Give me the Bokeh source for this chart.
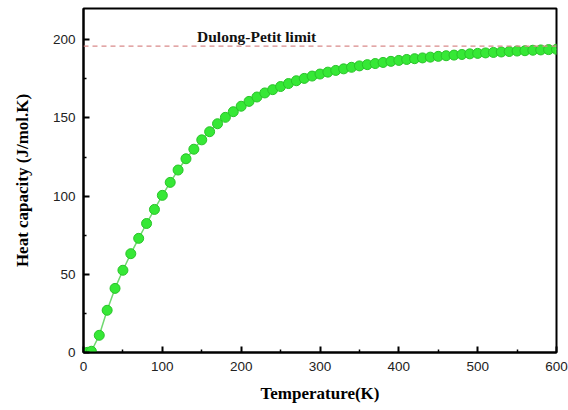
from bokeh.plotting import figure
from bokeh.models import Range1d, FixedTicker, Span
from bokeh.core.properties import value
from bokeh.embed import file_html
from bokeh.resources import INLINE

temperature = [5, 10, 20, 30, 40, 50, 60, 70, 80, 90, 100, 110, 120, 130, 140, 150,
               160, 170, 180, 190, 200, 210, 220, 230, 240, 250, 260, 270, 280, 290,
               300, 310, 320, 330, 340, 350, 360, 370, 380, 390, 400, 410, 420, 430,
               440, 450, 460, 470, 480, 490, 500, 510, 520, 530, 540, 550, 560, 570,
               580, 590, 600]
heat_capacity = [0.1, 0.8, 11.0, 27.0, 41.0, 52.6, 63.2, 73.0, 82.5, 91.5, 100.5, 108.8,
                 116.7, 123.9, 130.0, 136.0, 141.2, 146.3, 150.4, 154.0, 157.5, 160.6,
                 163.4, 166.0, 168.1, 170.1, 172.0, 173.8, 175.3, 176.8, 178.1, 179.3,
                 180.4, 181.4, 182.4, 183.3, 184.1, 184.8, 185.5, 186.2, 186.8, 187.4,
                 187.9, 188.4, 188.9, 189.4, 189.8, 190.2, 190.6, 191.0, 191.3, 191.6,
                 191.9, 192.2, 192.5, 192.8, 193.0, 193.3, 193.5, 193.7, 193.9]
dulong_petit = 196.0
x_ticks = [0, 100, 200, 300, 400, 500, 600]
y_ticks = [0, 50, 100, 150, 200]
annotation = ["Dulong-Petit limit"]
annotation_x = [144]
annotation_y = [202]

p = figure(width=568, height=410, output_backend="svg", toolbar_location=None,
           x_range=Range1d(0, 600), y_range=Range1d(0, 220))
p.min_border_left = 83
p.min_border_right = 12
p.min_border_top = 8
p.min_border_bottom = 58
p.grid.visible = False
p.outline_line_color = "black"
p.outline_line_width = 2

for ax in (p.xaxis[0], p.yaxis[0]):
    ax.axis_line_width = 2
    ax.major_tick_line_width = 2
    ax.minor_tick_line_width = 1.5
    ax.major_tick_in = 6
    ax.major_tick_out = 0
    ax.minor_tick_in = 3
    ax.minor_tick_out = 0
    ax.major_label_text_font = "Liberation Sans"
    ax.major_label_text_font_size = "13.5px"
    ax.major_label_text_color = "#222222"
    ax.axis_label_text_font = "Liberation Serif"
    ax.axis_label_text_font_style = "bold"
    ax.axis_label_text_font_size = "17px"
    ax.axis_label_text_color = "black"

p.xaxis.ticker = FixedTicker(ticks=x_ticks, minor_ticks=[50, 150, 250, 350, 450, 550])
p.yaxis.ticker = FixedTicker(ticks=y_ticks, minor_ticks=[25, 75, 125, 175])
p.xaxis.axis_label = "Temperature(K)"
p.yaxis.axis_label = "Heat capacity (J/mol.K)"
p.xaxis.major_label_standoff = 9
p.xaxis.axis_label_standoff = 10
p.yaxis.major_label_standoff = 8
p.yaxis.axis_label_standoff = 18

p.add_layout(Span(location=dulong_petit, dimension="width", line_color="#d98a8a",
                  line_width=1.2, line_dash="5 4"))

p.line(temperature, heat_capacity, line_color="#6fd86f", line_width=1.5)
p.scatter(temperature, heat_capacity, size=10, fill_color="#36e836",
          line_color="#29c429", line_width=1)

p.text(annotation_x, annotation_y, text=annotation, text_font=value("Liberation Serif"),
       text_font_style="bold", text_font_size="15.5px", text_baseline="alphabetic",
       text_color="#111111")

open("out.html", "w").write(file_html(p, INLINE))
